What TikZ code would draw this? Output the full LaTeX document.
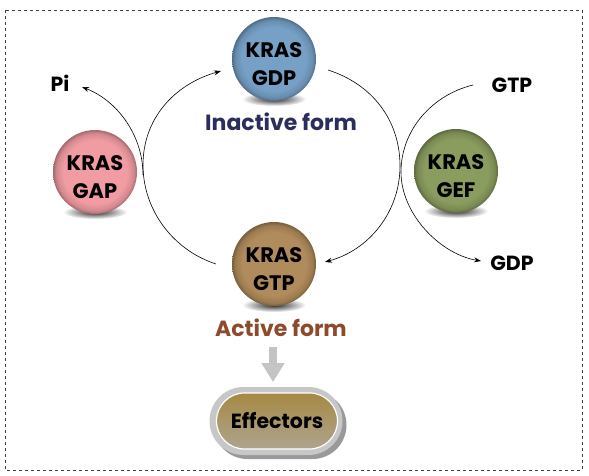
\documentclass[tikz,border=0pt]{standalone}
\usepackage{fontspec}
\setmainfont{Poppins}
\usetikzlibrary{arrows.meta,fadings,shapes.misc,calc}
\definecolor{gdpc}{HTML}{76A0C6}
\definecolor{gapc}{HTML}{F09CA2}
\definecolor{gefc}{HTML}{8A9C5E}
\definecolor{gtpc}{HTML}{B08B5B}
\definecolor{inactc}{HTML}{2B2D5C}
\definecolor{actc}{HTML}{8D4B2B}
\definecolor{arrgray}{HTML}{C4C4C4}
\definecolor{efftop}{HTML}{A68943}
\definecolor{effbot}{HTML}{AEA48E}
\colorlet{sphin}{white}
\colorlet{sphmid}{gray}
\colorlet{sphout}{black}
\pgfdeclareradialshading[sphin,sphmid,sphout]{sphshade}{\pgfpoint{0bp}{0bp}}{%
  color(0bp)=(sphin); color(19bp)=(sphin); color(23bp)=(sphmid);
  color(25bp)=(sphout); color(50bp)=(sphout)}
\tikzfading[name=fuzzy, inner color=transparent!0, outer color=transparent!100]
\begin{document}
\begin{tikzpicture}[x=1pt,y=-1pt,
  sphere/.style={circle, minimum size=84pt, inner sep=0pt,
    /utils/exec={\colorlet{sphin}{#1}\colorlet{sphmid}{#1!88!black}\colorlet{sphout}{#1!68!black}},
    shade, shading=sphshade},
  spheretext/.style={font=\bfseries\fontsize{21}{28}\selectfont, align=center, yshift=-5pt},
  shadowell/.style={black!85, path fading=fuzzy},
  conn/.style={line width=0.6pt, black},
  tip/.style={-{Stealth[length=7pt,width=5pt]}},
  lbl/.style={font=\bfseries\fontsize{20.5}{24}\selectfont},
  formlbl/.style={font=\bfseries\fontsize{22}{24}\selectfont},
  pill/.style={rounded rectangle, inner sep=0pt}]
\useasboundingbox (0,0) rectangle (589,475);
\draw[dashed, black!75, line width=0.5pt] (5,10) rectangle (582,470);

% shadows under spheres
\fill[shadowell] (274,99) ellipse (32 and 7);
\fill[shadowell] (95,212) ellipse (32 and 7);
\fill[shadowell] (456,211) ellipse (32 and 7);
\fill[shadowell] (274,305) ellipse (32 and 7);

% spheres
\node[sphere=gdpc, label={[spheretext]center:KRAS\\GDP}] (gdp) at (274,59) {};
\node[sphere=gapc, label={[spheretext]center:KRAS\\GAP}] (gap) at (95,172) {};
\node[sphere=gefc, label={[spheretext]center:KRAS\\GEF}] (gef) at (456,171) {};
\node[sphere=gtpc, label={[spheretext]center:KRAS\\GTP}] (gtp) at (274,264) {};

% labels
\node[formlbl, text=inactc] (inact) at (281,122) {Inactive form};
\node[formlbl, text=actc] (act) at (281,328) {Active form};
\node[lbl] (pi) at (60,83) {Pi};
\node[lbl] (gtpin) at (512,85) {GTP};
\node[lbl] (gdpout) at (512,263) {GDP};

% connector end points
\coordinate (L1) at (216,264);
\coordinate (LM) at (143,165);
\coordinate (L2) at (221,71);
\coordinate (R1) at (328,70);
\coordinate (RM) at (400,166);
\coordinate (R2) at (325,262);
\coordinate (P1) at (143,175);
\coordinate (P2) at (82,87);
\coordinate (G1) at (473,85);
\coordinate (GM) at (401,172);
\coordinate (G2) at (481,261);

% main cycle
\draw[conn, tip] (L1) .. controls (173,250) and (143,210) .. (LM)
   .. controls (143,118) and (175,84) .. (L2);
\draw[conn, tip] (R1) .. controls (372,84) and (400,120) .. (RM)
   .. controls (400,212) and (369,250) .. (R2);
% GAP / GEF side arcs
\draw[conn, tip] (P1) .. controls (143,136) and (118,101) .. (P2);
\draw[conn, tip] (G1) .. controls (432,95) and (401,130) .. (GM)
   .. controls (401,214) and (440,254) .. (G2);

% gray block arrow to effectors
\coordinate (ga1) at (273,347);
\coordinate (ga2) at (273,382);
\draw[arrgray, line width=8pt, -{Triangle[length=19pt,width=22pt]}] (ga1) -- (ga2);

% effectors pill
\node[pill, fill=black!40, minimum width=133pt, minimum height=68pt] (effsh) at (280,425) {};
\node[pill, fill=black!22, minimum width=133pt, minimum height=68pt] (effrim) at (276,421) {};
\node[pill, draw=white, line width=1.2pt, top color=efftop, bottom color=effbot,
      minimum width=121pt, minimum height=56pt,
      font=\bfseries\fontsize{20.5}{24}\selectfont] (eff) at (277,421) {Effectors};
\end{tikzpicture}
\end{document}
